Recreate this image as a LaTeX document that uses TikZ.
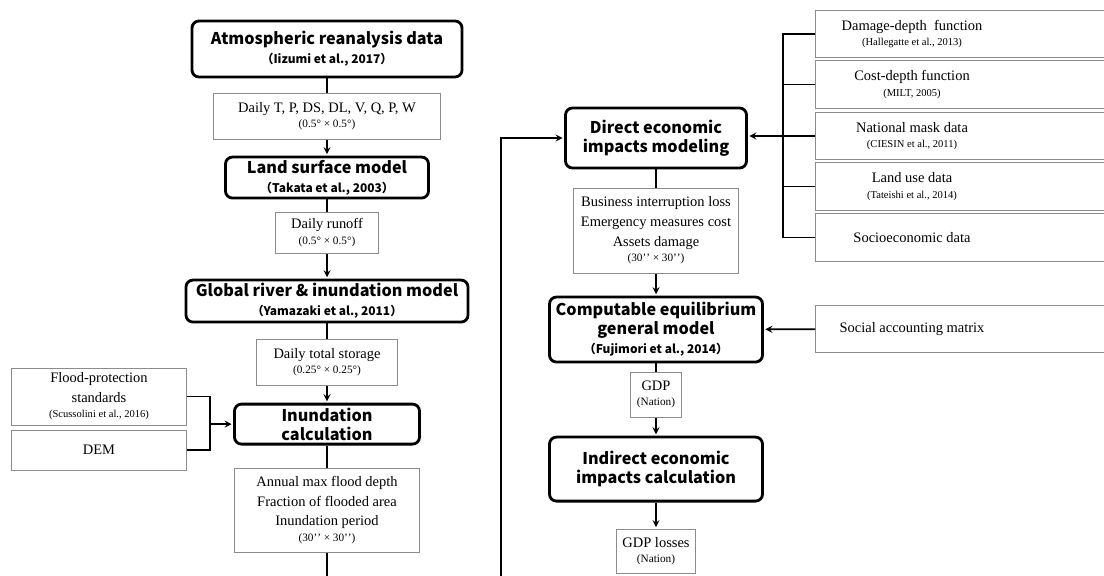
\documentclass[tikz,border=0pt]{standalone}
\usepackage{fontspec}
\setmainfont{Liberation Serif}
\newfontfamily\headfont{Noto Sans CJK JP}
\usepackage{tikz}
\usetikzlibrary{arrows}
\usetikzlibrary{calc}

\newcommand{\res}[1]{{\fontsize{8}{9}\selectfont #1}}
\newcommand{\cit}[1]{{\fontsize{8.5}{10}\selectfont #1}}
\newcommand{\arcsec}{’\kern0pt’}

\begin{document}
\begin{tikzpicture}[x=0.025cm,y=-0.025cm,->,>=stealth,shorten >=1pt,line width=1.2pt,
        model/.style={rectangle,rounded corners=5pt,draw=black,line width=2pt,align=center,inner sep=1pt,
          font=\headfont\bfseries\fontsize{11.5}{13.5}\selectfont},
        data/.style={rectangle,draw=black!45,line width=0.7pt,align=center,inner sep=2pt,
          font=\fontsize{10.3}{14}\selectfont},
        input/.style={rectangle,align=center,inner sep=2pt,minimum width=4.8cm,minimum height=1.15cm,
          font=\fontsize{10.3}{14}\selectfont},
        link/.style={-,shorten >=0pt}]
        \useasboundingbox (0,0) rectangle (1104,575);
        \clip (0,0) rectangle (1104,575);
        % flood column
        \node[model,minimum width=6.75cm,minimum height=1.4cm] (atm) at (327,49) {Atmospheric reanalysis data\\\cit{（Iizumi et al., 2017）}};
        \node[data,minimum width=5.65cm,minimum height=1.15cm] (daily) [below of=atm,node distance=1.675cm] {Daily T, P, DS, DL, V, Q, P, W\\[-3pt]\res{(0.5° × 0.5°)}};
        \node[model,minimum width=5.075cm,minimum height=1.025cm] (land) [below of=daily,node distance=1.5375cm] {Land surface model\\\cit{（Takata et al., 2003）}};
        \node[data,minimum width=2.55cm,minimum height=1.025cm] (runoff) [below of=land,node distance=1.375cm] {Daily runoff\\[-3pt]\res{(0.5° × 0.5°)}};
        \node[model,minimum width=7.05cm,minimum height=1.05cm] (river) [below of=runoff,node distance=1.7125cm] {Global river \& inundation model\\\cit{（Yamazaki et al., 2011）}};
        \node[data,minimum width=3.525cm,minimum height=1.15cm] (storage) [below of=river,node distance=1.525cm] {Daily total storage\\[-3pt]\res{(0.25° × 0.25°)}};
        \node[model,minimum width=4.625cm,minimum height=1cm] (inund) [below of=storage,node distance=1.55cm] {Inundation\\calculation};
        \node[data,minimum width=4.6cm,minimum height=2.1cm] (annual) [below of=inund,node distance=2.15cm] {Annual max flood depth\\Fraction of flooded area\\Inundation period\\[-3pt]\res{(30\arcsec{} × 30\arcsec)}};
        \node[data,minimum width=4.35cm,minimum height=1.425cm] (flood) at (99,396.5) {Flood-protection\\standards\\[-3pt]{\fontsize{7.5}{9}\selectfont(Scussolini et al., 2016)}};
        \node[data,minimum width=4.35cm,minimum height=1cm] (dem) at (99,450) {DEM};
        % economic column
        \node[model,minimum width=4.525cm,minimum height=1.5cm] (direct) at (656,138) {Direct economic\\impacts modeling};
        \node[data,minimum width=4.125cm,minimum height=2.125cm] (loss) [below of=direct,node distance=2.3125cm] {Business interruption loss\\Emergency measures cost\\Assets damage\\[-3pt]\res{(30\arcsec{} × 30\arcsec)}};
        \node[model,minimum width=5.325cm,minimum height=1.625cm] (cge) [below of=loss,node distance=2.475cm] {Computable equilibrium\\general model\\\cit{（Fujimori et al., 2014）}};
        \node[data,minimum width=1.275cm,minimum height=1.125cm] (gdp) [below of=cge,node distance=1.625cm] {GDP\\[-3pt]\res{(Nation)}};
        \node[model,minimum width=5.325cm,minimum height=1.6cm] (indirect) [below of=gdp,node distance=1.8625cm] {Indirect economic\\impacts calculation};
        \node[data,minimum width=1.975cm,minimum height=1.1cm] (gdploss) [below of=indirect,node distance=2.05cm] {GDP losses\\[-3pt]\res{(Nation)}};
        % inputs on the right
        \node[input] (dmg) at (912,34) {Damage-depth~ function\\[-3pt]{\fontsize{7.5}{9}\selectfont(Hallegatte et al., 2013)}};
        \node[input] (cost) [below of=dmg,node distance=1.2625cm] {Cost-depth function\\[-3pt]{\fontsize{7.5}{9}\selectfont(MILT, 2005)}};
        \node[input] (mask) [below of=cost,node distance=1.2875cm] {National mask data\\[-3pt]{\fontsize{7.5}{9}\selectfont(CIESIN et al., 2011)}};
        \node[input] (landuse) [below of=mask,node distance=1.2625cm] {Land use data\\[-3pt]{\fontsize{7.5}{9}\selectfont(Tateishi et al., 2014)}};
        \node[input] (socio) [below of=landuse,node distance=1.275cm] {Socioeconomic data};
        \node[input] (sam) at (912,329) {Social accounting matrix};
        \foreach \s in {dmg,cost,mask,landuse,socio,sam}
          \draw[link,draw=black!45,line width=0.7pt] (\s.north west) rectangle ($(\s.south east)+(130,0)$);
        \coordinate (bus) at (783,0);
        \coordinate (jn) at ($(inund.west)+(-23,0)$);
        \coordinate (fb) at (501,600);
        \path
          (atm) edge[link] (daily)
          (daily) edge (land)
          (land) edge[link] (runoff)
          (runoff) edge (river)
          (river) edge[link] (storage)
          (storage) edge (inund)
          (inund) edge[link] (annual)
          (direct) edge[link] (loss)
          (loss) edge (cge)
          (cge) edge[link] (gdp)
          (gdp) edge (indirect)
          (indirect) edge (gdploss)
          (sam) edge (cge)
          ;
        \draw[link] (flood.east) -| (jn);
        \draw[link] (dem.east) -| (jn);
        \draw (jn) -- (inund.west);
        \draw[link] (annual) -- (annual |- fb);
        \draw[link] (dmg.west) -- (dmg.west -| bus) -- (socio.west -| bus) -- (socio.west);
        \foreach \s in {cost,landuse}
          \draw[link] (\s.west) -- (\s.west -| bus);
        \draw (mask.west) -- (mask.west -| direct.east);
        \draw (fb) |- (direct.west);
      \end{tikzpicture}
\end{document}
